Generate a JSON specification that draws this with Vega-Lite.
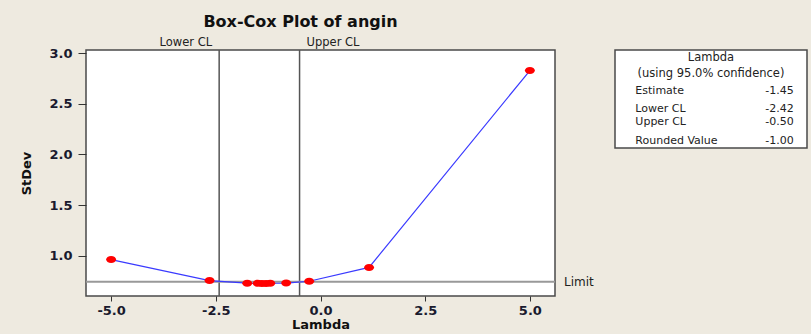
{
  "$schema": "https://vega.github.io/schema/vega-lite/v6.json",
  "background": "#EEEAE0",
  "padding": {"left": 20, "top": 13, "right": 3, "bottom": 4},
  "bounds": "flush",
  "spacing": 60,
  "config": {
    "font": "DejaVu Sans",
    "view": {"fill": "white", "stroke": "#4a4a4a", "strokeWidth": 1.5},
    "axis": {"grid": false, "domain": false, "tickColor": "#333333", "labelColor": "#1a1a2e", "titleColor": "#111111", "labelFont": "DejaVu Sans", "labelFontWeight": "bold", "labelFontSize": 13, "titleFont": "DejaVu Sans", "titleFontWeight": "bold", "titleFontSize": 13}
  },
  "datasets": {
    "boxcox": [
      {"lambda": -5.0, "stdev": 0.96},
      {"lambda": -2.65, "stdev": 0.753},
      {"lambda": -1.75, "stdev": 0.727},
      {"lambda": -1.5, "stdev": 0.725},
      {"lambda": -1.4, "stdev": 0.724},
      {"lambda": -1.3, "stdev": 0.724},
      {"lambda": -1.2, "stdev": 0.726},
      {"lambda": -0.82, "stdev": 0.728},
      {"lambda": -0.27, "stdev": 0.746},
      {"lambda": 1.16, "stdev": 0.883},
      {"lambda": 5.0, "stdev": 2.83}
    ],
    "cl": [
      {"lambda": -2.42, "label": "Lower CL"},
      {"lambda": -0.5, "label": "Upper CL"}
    ],
    "limit": [{"stdev": 0.74, "label": "Limit"}],
    "summary": [
      {"kind": "head", "text": "Lambda", "line": 0.49},
      {"kind": "head", "text": "(using 95.0% confidence)", "line": 1.47},
      {"kind": "row", "text": "Estimate", "value": "-1.45", "line": 2.53},
      {"kind": "row", "text": "Lower CL", "value": "-2.42", "line": 3.63},
      {"kind": "row", "text": "Upper CL", "value": "-0.50", "line": 4.41},
      {"kind": "row", "text": "Rounded Value", "value": "-1.00", "line": 5.55}
    ]
  },
  "hconcat": [
    {
      "width": 469,
      "height": 246,
      "title": {"text": "Box-Cox Plot of angin", "font": "DejaVu Sans", "fontSize": 16, "fontWeight": "bold", "color": "#111111", "offset": 7, "dx": -20},
      "layer": [
        {
          "data": {"name": "cl"},
          "mark": {"type": "rule", "color": "#555555", "strokeWidth": 1.5},
          "encoding": {
            "x": {"field": "lambda", "type": "quantitative", "scale": {"domain": [-5.6, 5.6], "nice": false, "zero": false}}
          }
        },
        {
          "data": {"name": "limit"},
          "mark": {"type": "rule", "color": "#999999", "strokeWidth": 2},
          "encoding": {
            "y": {"field": "stdev", "type": "quantitative"}
          }
        },
        {
          "data": {"name": "cl"},
          "transform": [{"filter": "datum.label == 'Lower CL'"}],
          "mark": {"type": "text", "align": "right", "baseline": "middle", "dx": -7, "dy": -7, "fontSize": 11.5, "color": "#222222", "clip": false},
          "encoding": {
            "x": {"field": "lambda", "type": "quantitative"},
            "y": {"datum": 3.033, "type": "quantitative"},
            "text": {"field": "label"}
          }
        },
        {
          "data": {"name": "cl"},
          "transform": [{"filter": "datum.label == 'Upper CL'"}],
          "mark": {"type": "text", "align": "left", "baseline": "middle", "dx": 7, "dy": -7, "fontSize": 11.5, "color": "#222222", "clip": false},
          "encoding": {
            "x": {"field": "lambda", "type": "quantitative"},
            "y": {"datum": 3.033, "type": "quantitative"},
            "text": {"field": "label"}
          }
        },
        {
          "data": {"name": "limit"},
          "mark": {"type": "text", "align": "left", "baseline": "middle", "dx": 9, "fontSize": 12, "color": "#222222", "clip": false},
          "encoding": {
            "x": {"datum": 5.6, "type": "quantitative"},
            "y": {"field": "stdev", "type": "quantitative"},
            "text": {"field": "label"}
          }
        },
        {
          "data": {"name": "boxcox"},
          "mark": {"type": "line", "color": "#3a3aff", "strokeWidth": 1.2},
          "encoding": {
            "x": {"field": "lambda", "type": "quantitative", "title": "Lambda",
                  "axis": {"values": [-5, -2.5, 0, 2.5, 5], "format": ".1f", "labelExpr": "replace(datum.label, '\u2212', '-')", "tickSize": 5, "labelPadding": 3, "titlePadding": 1}},
            "y": {"field": "stdev", "type": "quantitative", "title": "StDev",
                  "scale": {"domain": [0.6, 3.033], "nice": false, "zero": false},
                  "axis": {"values": [1.0, 1.5, 2.0, 2.5, 3.0], "format": ".1f", "tickSize": 8, "labelPadding": 6, "titlePadding": 15}}
          }
        },
        {
          "data": {"name": "boxcox"},
          "mark": {"type": "point", "shape": "M-1,0A1,0.7,0,1,0,1,0A1,0.7,0,1,0,-1,0Z", "filled": true, "color": "#ff0000", "opacity": 1, "size": 100},
          "encoding": {
            "x": {"field": "lambda", "type": "quantitative"},
            "y": {"field": "stdev", "type": "quantitative"}
          }
        }
      ]
    },
    {
      "width": 192,
      "height": 98,
      "data": {"name": "summary"},
      "layer": [
        {
          "transform": [{"filter": "datum.kind == 'head'"}],
          "mark": {"type": "text", "align": "center", "baseline": "middle", "fontSize": 11.5, "color": "#222222"},
          "encoding": {
            "y": {"field": "line", "type": "quantitative", "scale": {"domain": [0, 6], "reverse": true, "nice": false}, "axis": null},
            "text": {"field": "text"}
          }
        },
        {
          "transform": [{"filter": "datum.kind == 'row'"}],
          "mark": {"type": "text", "align": "left", "baseline": "middle", "fontSize": 11, "color": "#222222"},
          "encoding": {
            "x": {"datum": 10.6, "type": "quantitative", "scale": {"domain": [0, 100], "nice": false}, "axis": null},
            "y": {"field": "line", "type": "quantitative"},
            "text": {"field": "text"}
          }
        },
        {
          "transform": [{"filter": "datum.kind == 'row'"}],
          "mark": {"type": "text", "align": "right", "baseline": "middle", "fontSize": 11, "color": "#222222"},
          "encoding": {
            "x": {"datum": 93.1, "type": "quantitative"},
            "y": {"field": "line", "type": "quantitative"},
            "text": {"field": "value"}
          }
        }
      ]
    }
  ]
}
